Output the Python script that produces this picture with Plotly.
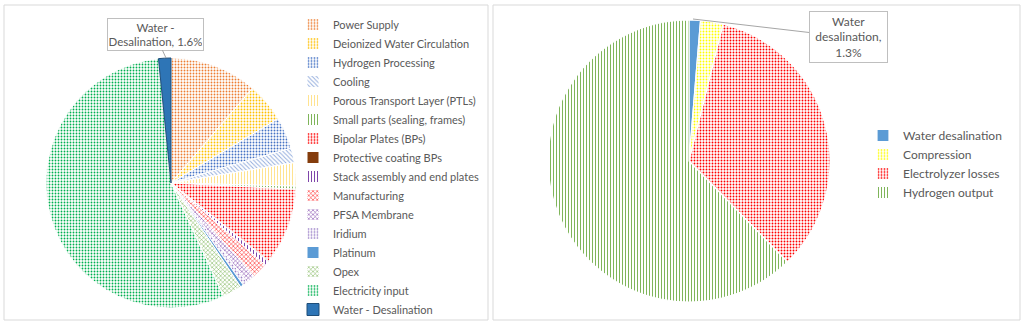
import plotly.graph_objects as go

# ---------------- data ----------------
left_labels = ["Power Supply", "Deionized Water Circulation", "Hydrogen Processing", "Cooling",
               "Porous Transport Layer (PTLs)", "Small parts (sealing, frames)", "Bipolar Plates (BPs)",
               "Protective coating BPs", "Stack assembly and end plates", "Manufacturing",
               "PFSA Membrane", "Iridium", "Platinum", "Opex", "Electricity input",
               "Water - Desalination"]
left_values = [11.3, 5.1, 4.1, 1.9, 3.0, 0.4, 9.9, 0.1, 0.6, 2.0, 1.2, 0.6, 0.4, 2.5, 55.3, 1.6]

right_labels = ["Water desalination", "Compression", "Electrolyzer losses", "Hydrogen output"]
right_values = [1.3, 2.6, 33.8, 62.3]

left_label_text = "Water -<br>Desalination, 1.6%"
right_label_text = "Water<br>desalination,<br>1.3%"

# ---------------- styles ----------------
left_colors = ["#ED7D31", "#FFC000", "#4472C4", "#8FAADC", "#FFE083", "#70AD47", "#FF0000",
               "#843C0C", "#7030A0", "#FF0000", "#7030A0", "#9E83C9", "#5B9BD5", "#70AD47",
               "#00B050", "#2E75B6"]
left_shapes = [".", ".", ".", "\\", "|", "|", ".", "", "|", "x", "x", ".", "", "x", ".", ""]
left_line = ["white"] * 15 + ["#1F4E79"]

right_colors = ["#5B9BD5", "#FFFF00", "#FF0000", "#70AD47"]
right_shapes = ["", ".", ".", "|"]

W, H = 1024, 324
def px(x):
    return x / W
def py(y):
    return (H - y) / H

FONT = "Lato, Open Sans, sans-serif"
TXT = "#595959"

fig = go.Figure()

fig.add_trace(go.Pie(
    labels=left_labels, values=left_values, sort=False, direction="clockwise", rotation=0,
    textinfo="none", hoverinfo="label+percent",
    marker=dict(colors=left_colors, line=dict(color=left_line, width=1),
                pattern=dict(shape=left_shapes, size=3, solidity=0.3)),
    domain=dict(x=[px(46), px(296)], y=[py(308), py(58)]),
    legend="legend",
))

fig.add_trace(go.Pie(
    labels=right_labels, values=right_values, sort=False, direction="clockwise", rotation=0,
    textinfo="none", hoverinfo="label+percent",
    marker=dict(colors=right_colors, line=dict(color="white", width=1.2),
                pattern=dict(shape=right_shapes, size=3, solidity=0.3)),
    domain=dict(x=[px(548), px(830)], y=[py(302), py(20)]),
    legend="legend2",
))

# panel borders
fig.add_shape(type="rect", xref="paper", yref="paper", x0=px(4), x1=px(488), y0=py(320), y1=py(5),
              line=dict(color="#D9D9D9", width=1))
fig.add_shape(type="rect", xref="paper", yref="paper", x0=px(493), x1=px(1020), y0=py(320), y1=py(5),
              line=dict(color="#D9D9D9", width=1))

# data labels
fig.add_annotation(xref="paper", yref="paper", x=px(166), y=py(58), ax=-11, ay=-24,
                   text=left_label_text, showarrow=True, arrowhead=0, arrowwidth=1,
                   arrowcolor="#A6A6A6", bordercolor="#BFBFBF", borderwidth=1, bgcolor="white",
                   font=dict(family=FONT, size=11.5, color=TXT), width=93, height=29, align="center")
fig.add_annotation(xref="paper", yref="paper", x=px(693), y=py(19), ax=155, ay=18,
                   text=right_label_text, showarrow=True, arrowhead=0, arrowwidth=1,
                   arrowcolor="#A6A6A6", bordercolor="#BFBFBF", borderwidth=1, bgcolor="white",
                   font=dict(family=FONT, size=12, color=TXT), width=75, height=48, align="center")

fig.update_layout(
    width=W, height=H, margin=dict(l=0, r=0, t=0, b=0),
    paper_bgcolor="white", plot_bgcolor="white",
    font=dict(family=FONT, color=TXT),
    legend=dict(x=px(293), y=py(14), xanchor="left", yanchor="top",
                font=dict(family=FONT, size=11, color=TXT), bgcolor="rgba(0,0,0,0)"),
    legend2=dict(x=px(863), y=py(121), xanchor="left", yanchor="top",
                 font=dict(family=FONT, size=12, color=TXT), bgcolor="rgba(0,0,0,0)"),
)

fig.write_html("out.html")
